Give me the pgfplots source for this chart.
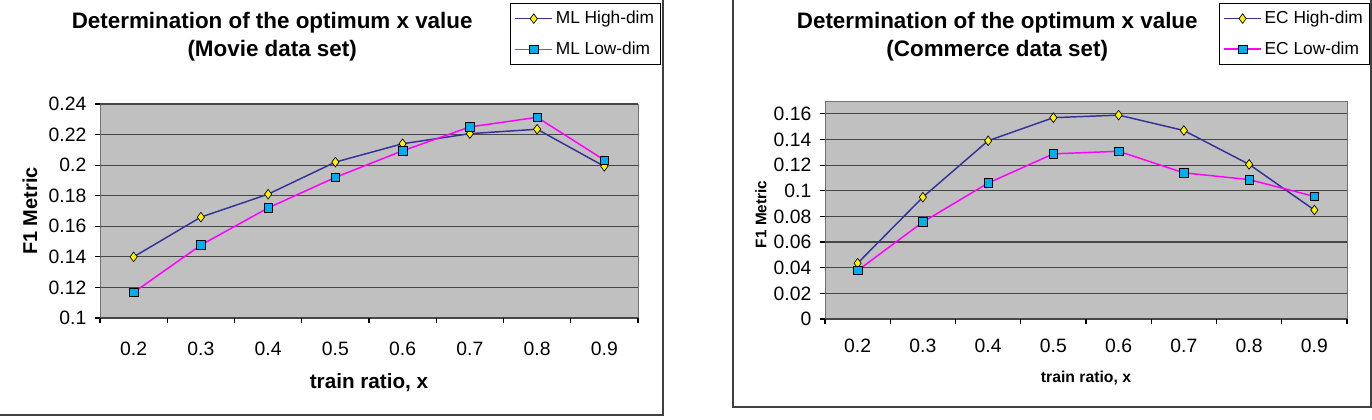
\documentclass[border=0pt]{standalone}
\usepackage{pgfplots}
\pgfplotsset{compat=1.18}
\usepackage{fontspec}
\setmainfont{Liberation Sans}
\definecolor{hiline}{RGB}{51,51,153}
\definecolor{loline}{RGB}{255,0,255}
\definecolor{plotbg}{RGB}{192,192,192}
\definecolor{gridc}{RGB}{70,70,70}
\definecolor{framec}{RGB}{64,64,64}

\pgfplotstableread{
x    hi     lo
0.2  0.140  0.1167
0.3  0.166  0.1477
0.4  0.181  0.172
0.5  0.202  0.192
0.6  0.214  0.2094
0.7  0.2206 0.225
0.8  0.2235 0.2313
0.9  0.1992 0.2033
}\movie

\pgfplotstableread{
x    hi     lo
0.2  0.0435 0.0378
0.3  0.095  0.0756
0.4  0.139  0.106
0.5  0.157  0.1288
0.6  0.159  0.1308
0.7  0.147  0.114
0.8  0.1206 0.1087
0.9  0.085  0.0956
}\commerce

\pgfplotsset{
  excel/.style={
    scale only axis,
    xmin=0.15, xmax=0.95,
    xtick={0.2,0.3,0.4,0.5,0.6,0.7,0.8,0.9},
    xticklabels={0.2,0.3,0.4,0.5,0.6,0.7,0.8,0.9},
    minor xtick={0.15,0.25,0.35,0.45,0.55,0.65,0.75,0.85,0.95},
    major x tick style={draw=none},
    minor x tick style={black, line width=0.9pt},
    minor tick length=3.75pt,
    major tick length=3.75pt,
    tick align=outside,
    xtick pos=bottom, ytick pos=left,
    y tick style={black, line width=0.9pt},
    ymajorgrids,
    grid style={gridc, line width=0.9pt},
    axis line style={draw=none},
    axis background/.style={fill=plotbg, draw=gray!90!black, line width=0.6pt},
    tick label style={font=\fontsize{14.5}{17}\selectfont},
    /pgf/number format/assume math mode=true,
    yticklabel style={/pgf/number format/fixed, /pgf/number format/precision=2, xshift=-3pt},
    legend cell align=left,
    legend style={draw=black, line width=0.6pt, fill=white, font=\fontsize{13}{15}\selectfont,
      inner xsep=3pt, inner ysep=4pt, row sep=8pt, anchor=north east},
    legend image code/.code={
      \draw[mark repeat=2, mark phase=2] plot coordinates {(0pt,0pt) (14pt,0pt) (28pt,0pt)};
    },
    title style={align=center, font=\fontsize{16.8}{21}\selectfont\bfseries, anchor=center},
  },
  hiplot/.style={hiline, line width=1.1pt, mark=diamond*, mark size=3.6pt,
    mark options={fill=yellow, draw=black, line width=0.5pt}},
  loplot/.style={loline, line width=1.1pt, mark=square*, mark size=3.2pt,
    mark options={fill=cyan, draw=black, line width=0.5pt}},
}

\begin{document}
\begin{tikzpicture}
\path[use as bounding box] (0pt,0pt) rectangle (1029pt,314.25pt);
% panel frames
\draw[framec, line width=1.5pt] (497.25pt,314.25pt) -- (497.25pt,3pt) -- (0pt,3pt);
\draw[framec, line width=1.5pt] (549.75pt,314.25pt) -- (549.75pt,9pt) -- (1028.25pt,9pt) -- (1028.25pt,314.25pt);

\begin{axis}[excel,
  at={(75pt,75.75pt)}, anchor=south west,
  width=403.5pt, height=160.5pt,
  ymin=0.1, ymax=0.24,
  ytick={0.1,0.12,0.14,0.16,0.18,0.2,0.22,0.24},
  xticklabel style={yshift=-11pt},
  title={Determination of the optimum x value\\(Movie data set)},
  title style={at={(0.32,1.276)}},
  xlabel={train ratio, x},
  xlabel style={at={(0.5,-0.304)}, anchor=center, font=\fontsize{15.5}{18}\selectfont\bfseries},
  ylabel={F1 Metric},
  ylabel style={at={(-0.130,0.5)}, anchor=center, font=\fontsize{15}{18}\selectfont\bfseries},
  legend style={at={(1.043,1.472)}},
]
\addplot[hiplot] table[x=x,y=hi] {\movie};
\addplot[loplot] table[x=x,y=lo] {\movie};
\legend{ML High-dim, ML Low-dim}
\end{axis}

\begin{axis}[excel,
  at={(618.75pt,75pt)}, anchor=south west,
  width=391.5pt, height=163.5pt,
  ymin=0, ymax=0.17,
  ytick={0,0.02,0.04,0.06,0.08,0.1,0.12,0.14,0.16},
  xticklabel style={yshift=-7.5pt},
  title={Determination of the optimum x value\\(Commerce data set)},
  title style={at={(0.33,1.257)}},
  xlabel={train ratio, x},
  xlabel style={at={(0.5,-0.271)}, anchor=center, font=\fontsize{11.8}{14}\selectfont\bfseries},
  ylabel={F1 Metric},
  ylabel style={at={(-0.123,0.48)}, anchor=center, font=\fontsize{11.5}{14}\selectfont\bfseries},
  legend style={at={(1.044,1.45)}},
]
\addplot[hiplot] table[x=x,y=hi] {\commerce};
\addplot[loplot] table[x=x,y=lo] {\commerce};
\legend{EC High-dim, EC Low-dim}
\end{axis}
\end{tikzpicture}
\end{document}
